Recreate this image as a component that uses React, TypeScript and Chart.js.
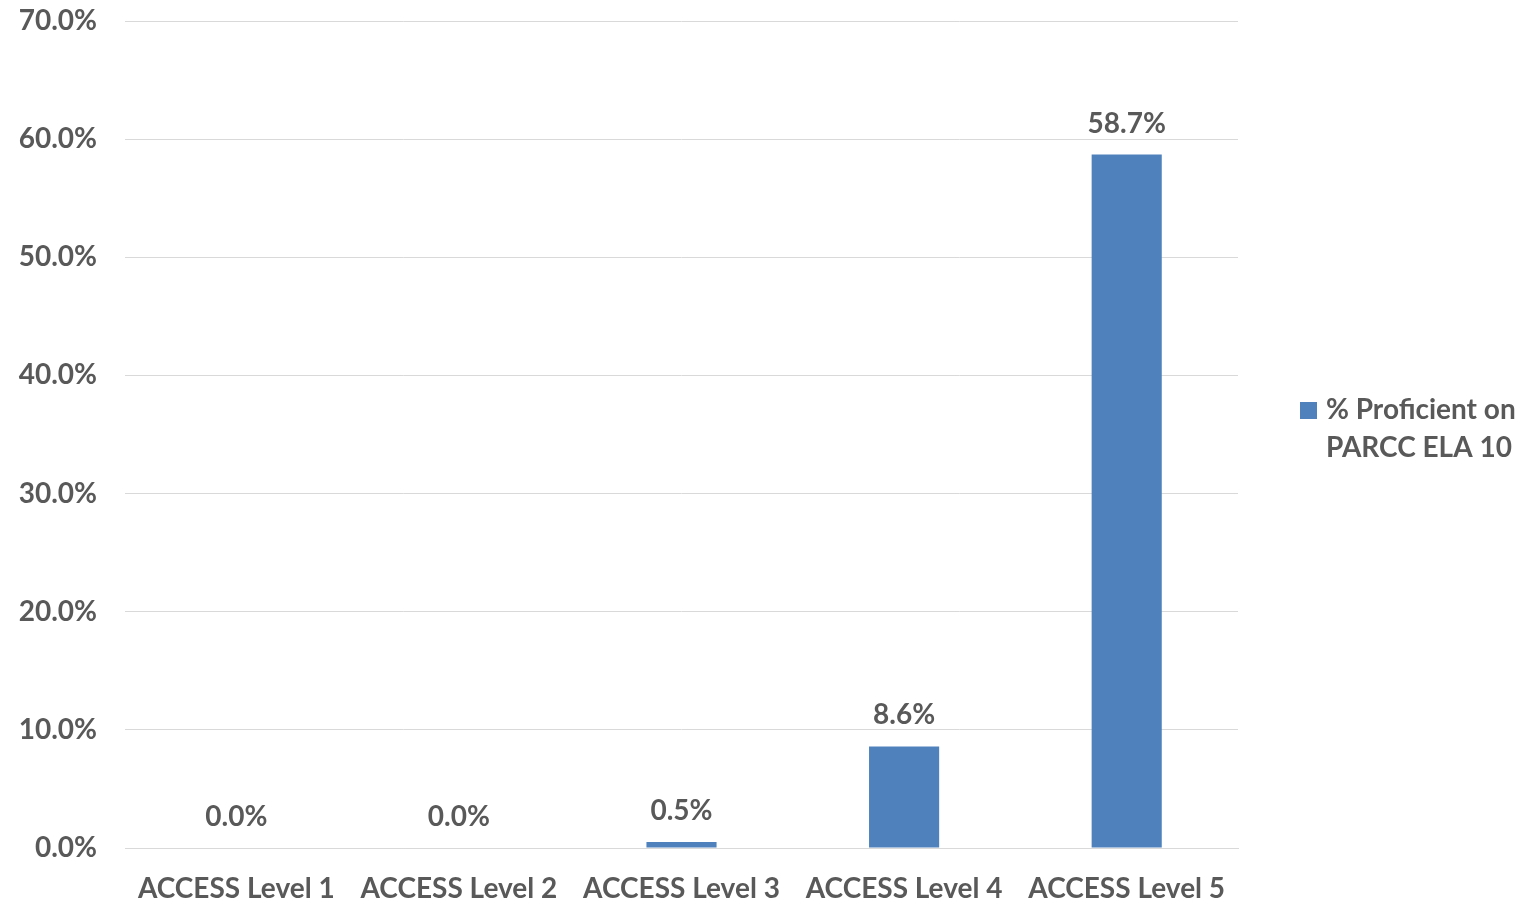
import React, { useEffect, useRef } from "react";
import { Chart, registerables } from "chart.js";

Chart.register(...registerables);

const categories = ["ACCESS Level 1", "ACCESS Level 2", "ACCESS Level 3", "ACCESS Level 4", "ACCESS Level 5"];
const proficient = [0.0, 0.0, 0.5, 8.6, 58.7];
const seriesName = "% Proficient on PARCC ELA 10";
const legendLines = ["% Proficient on", "PARCC ELA 10"];

const FONT = "Lato, 'Noto Sans', sans-serif";
const TEXT = "#595959";
const BAR = "#4f81bd";

export default function App() {
  const ref = useRef<HTMLCanvasElement | null>(null);
  useEffect(() => {
    if (!ref.current) return;
    const labelsPlugin = {
      id: "valueLabels",
      afterDatasetsDraw(chart: any) {
        const ctx = chart.ctx;
        const meta = chart.getDatasetMeta(0);
        ctx.save();
        ctx.font = `bold 28px ${FONT}`;
        ctx.fillStyle = TEXT;
        ctx.textAlign = "center";
        ctx.textBaseline = "alphabetic";
        meta.data.forEach((el: any, i: number) => {
          const v = chart.data.datasets[0].data[i] as number;
          ctx.fillText(v.toFixed(1) + "%", el.x, el.y - 22);
        });
        ctx.restore();
      },
    };
    const legendPlugin = {
      id: "sideLegend",
      afterDraw(chart: any) {
        const ctx = chart.ctx;
        ctx.save();
        const x0 = 1300;
        const y0 = 410;
        ctx.fillStyle = BAR;
        ctx.fillRect(x0, y0 - 8, 17, 17);
        ctx.font = `bold 28px ${FONT}`;
        ctx.fillStyle = TEXT;
        ctx.textAlign = "left";
        ctx.textBaseline = "middle";
        legendLines.forEach((t, i) => ctx.fillText(t, x0 + 26, y0 + i * 38));
        ctx.restore();
      },
    };
    const chart = new Chart(ref.current, {
      type: "bar",
      data: {
        labels: categories,
        datasets: [
          {
            label: seriesName,
            data: proficient,
            backgroundColor: BAR,
            borderWidth: 0,
            barPercentage: 0.315,
            categoryPercentage: 1,
          },
        ],
      },
      options: {
        responsive: true,
        maintainAspectRatio: false,
        animation: false,
        layout: { padding: { left: 0, top: 0, right: 297, bottom: 0 } },
        plugins: {
          legend: { display: false },
          tooltip: { enabled: false },
        },
        scales: {
          x: {
            grid: { display: false, drawTicks: false },
            border: { display: true, color: "#d9d9d9", width: 1 },
            ticks: {
              color: TEXT,
              font: { family: FONT, size: 28, weight: "bold" },
              padding: 24,
              maxRotation: 0,
              autoSkip: false,
            },
            afterFit(scale: any) {
              scale.height = 55;
              scale.paddingLeft = 0;
              scale.paddingRight = 0;
            },
          },
          y: {
            min: 0,
            max: 70,
            grid: { color: "#d9d9d9", lineWidth: 1, drawTicks: false },
            border: { display: false },
            ticks: {
              stepSize: 10,
              color: TEXT,
              font: { family: FONT, size: 28, weight: "bold" },
              padding: 28,
              callback: (v: any) => Number(v).toFixed(1) + "%",
            },
            afterFit(scale: any) {
              scale.width = 125;
              scale.paddingTop = 21;
              scale.paddingBottom = 0;
            },
          },
        },
      },
      plugins: [labelsPlugin, legendPlugin],
    });
    return () => chart.destroy();
  }, []);
  return (
    <div style={{ position: "fixed", left: 0, top: 0, width: 1535, height: 903, background: "#fff" }}>
      <canvas ref={ref} />
    </div>
  );
}
